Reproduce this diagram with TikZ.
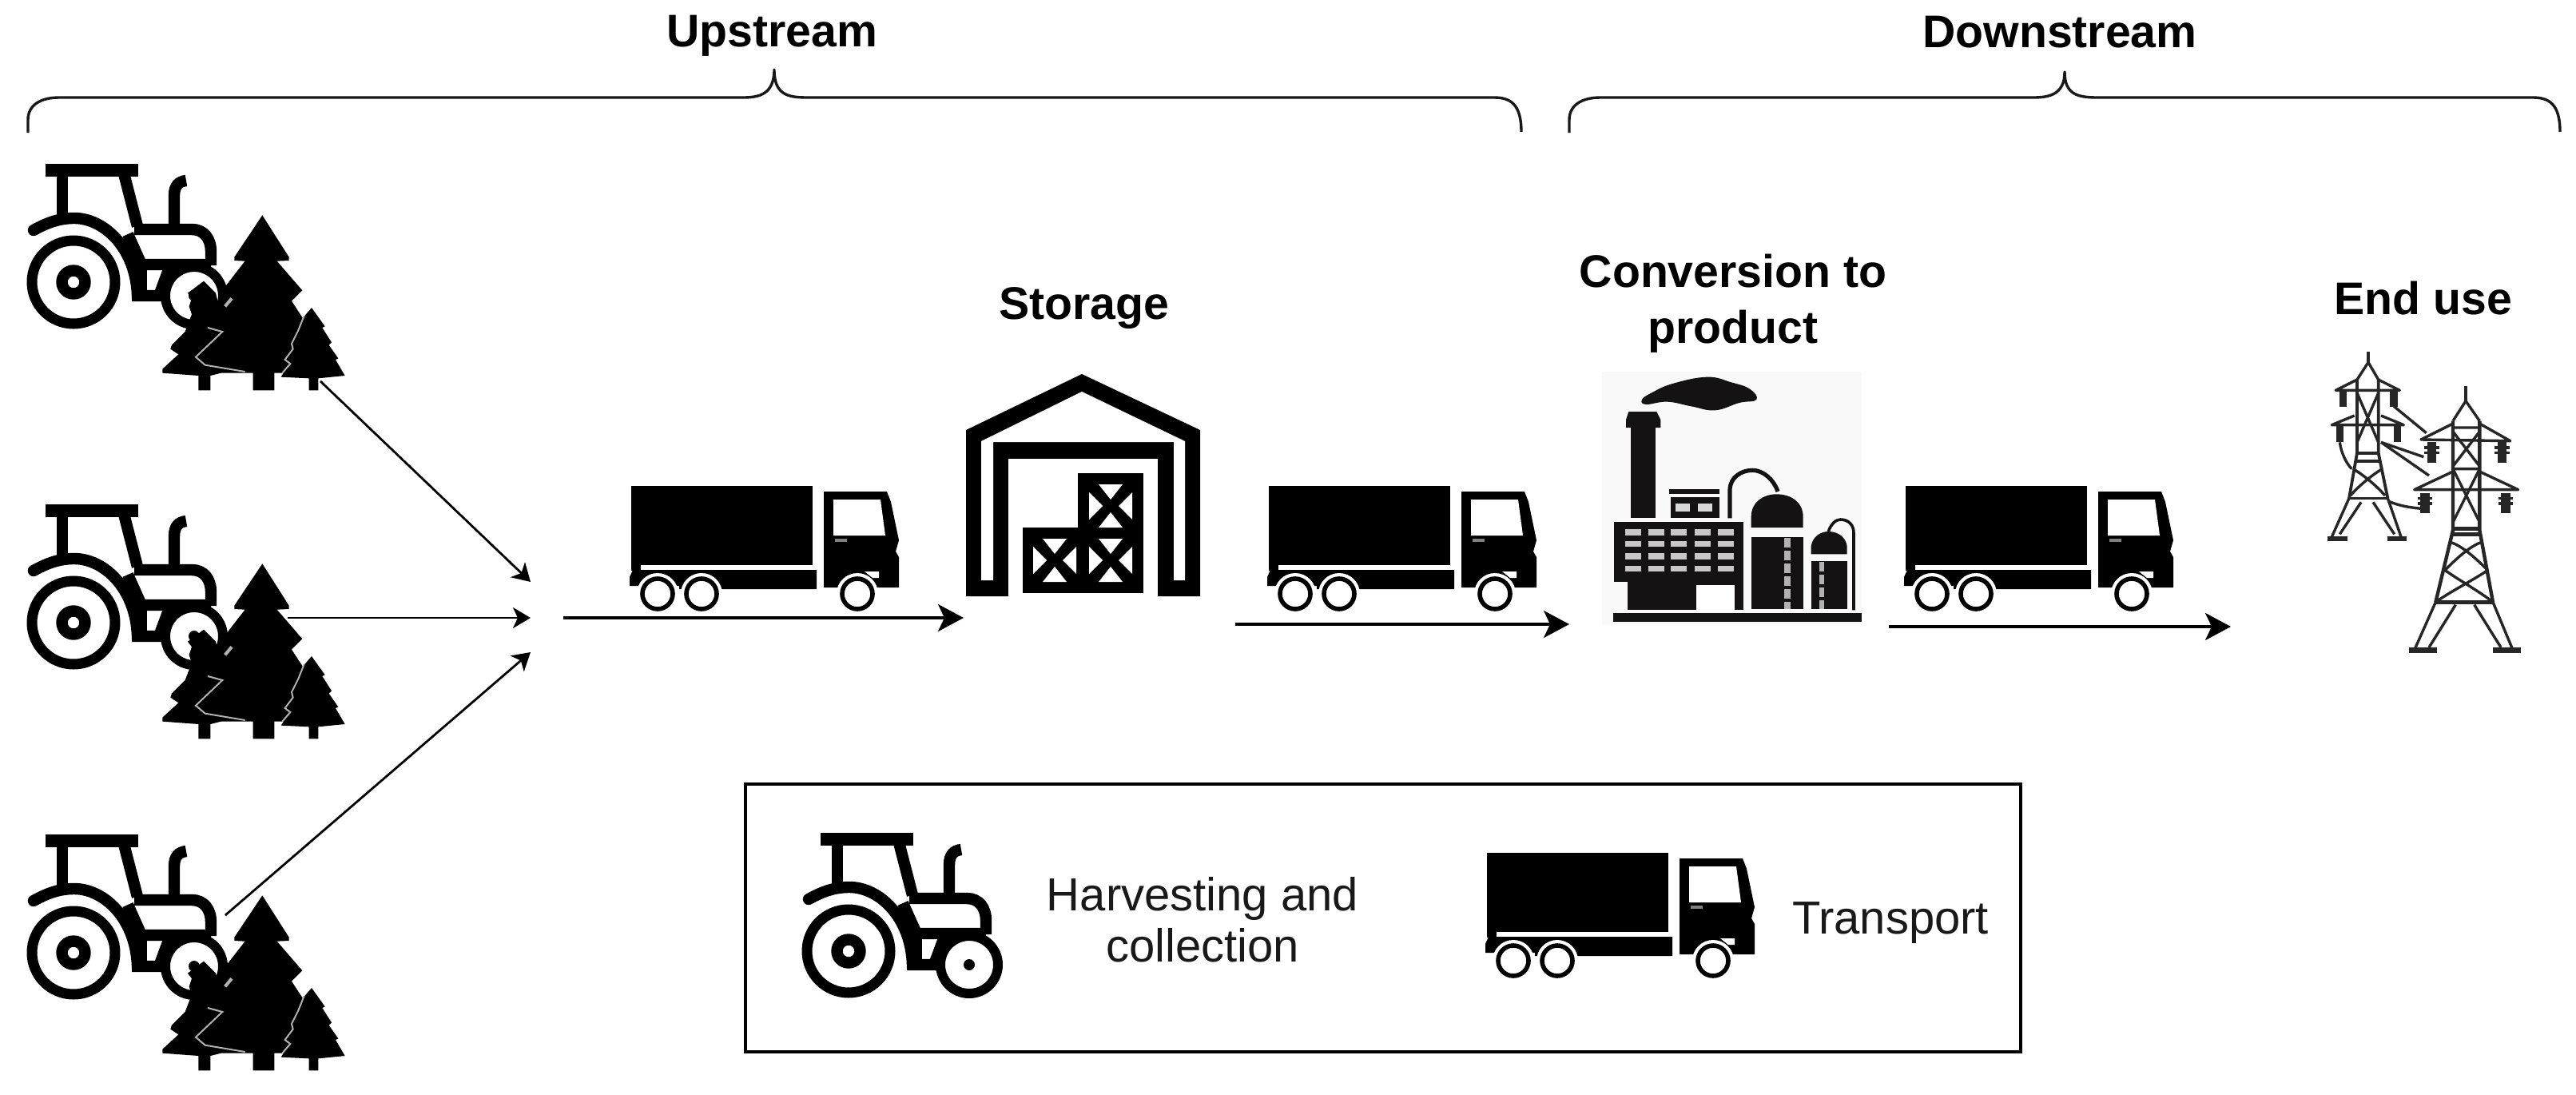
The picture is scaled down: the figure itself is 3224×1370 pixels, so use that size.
\documentclass[tikz,border=0pt]{standalone}
\usepackage{fontspec}
\setmainfont{Liberation Sans}
\usetikzlibrary{arrows.meta}
\definecolor{ink}{HTML}{000000}
\definecolor{fact}{HTML}{151213}
\tikzset{
  label/.style={font=\fontsize{14.3}{17.5}\selectfont\bfseries,align=center,text=ink,inner sep=0pt},
  leg/.style={font=\fontsize{14.5}{16}\selectfont,align=center,text=black!90,inner sep=0pt},
  brace/.style={draw=ink!90,line width=0.85pt,line join=round},
  arr/.style={draw=ink,line width=0.9pt,-{Stealth[length=8pt,width=8.5pt,inset=2pt]}},
  arrs/.style={draw=ink,line width=0.7pt,-{Stealth[length=5.5pt,width=6.5pt,inset=1.5pt]}},
  tractor/.pic={
    \begin{scope}[draw=ink,line width=3.6pt]
      \draw[line width=4pt] (57,33)--(173,33);
      \draw (78,33)--(78,92);
      \draw (155,37)--(172,103);
      \draw (218,103)--(218,65) .. controls (218,52) and (224,47) .. (233,46);
      \draw (168,107)--(240,107) .. controls (255,107) and (264,118) .. (264,135)--(264,152);
      \draw[line cap=round] (42,108) .. controls (60,98) and (75,93) .. (93,93) .. controls (130,93) and (170,130) .. (172,190) -- (202,190);
      \draw (160,113)--(177,151)--(264,151);
      \draw (177,151)--(177,190);
      \draw (212,155)--(199,190);
      \draw[fill=white,line width=3.25pt] (92,173) circle[radius=52];
      \draw (92,173) circle[radius=14.5];
      \draw[fill=white,line width=3pt] (243,190) circle[radius=36];
      \fill[ink] (243,190) circle[radius=7];
    \end{scope}
  },
  trees/.pic={
    \begin{scope}[scale=1/3,fill=ink]
      \fill (985,268)--(1085,425)--(1085,438)--(1040,440)--(1135,550)--(1095,590)--(1180,720)--(1150,860)--(1030,860)--(1030,925)--(950,925)--(950,860)--(800,860)--(800,620)--(850,530)--(920,440)--(880,438)--(880,425)--cycle;
      \fill (765,515)--(810,560)--(830,640)--(830,860)--(790,870)--(790,925)--(745,925)--(745,870)--(610,860)--(610,845)--(670,790)--(640,770)--(645,755)--(695,705)--(720,640)--(710,610)--(720,580)--(705,560)--(725,545)--cycle;
      \fill (1170,615)--(1220,685)--(1210,690)--(1245,745)--(1235,755)--(1270,805)--(1260,810)--(1295,870)--(1195,880)--(1195,925)--(1160,925)--(1160,880)--(1055,875)--(1090,820)--(1070,800)--(1120,700)--(1140,650)--cycle;
      \draw[white!70!black,line width=0.5pt] (780,690)--(835,705)--(735,800)--(770,830)--(920,855);
      \draw[white!70!black,line width=0.5pt] (1142,645)--(1120,700)--(1095,750)--(1100,770)--(1070,810)--(1090,825)--(1060,860);
      \draw[white!70!black,line width=1pt] (845,610)--(870,580);
    \end{scope}
  },
  truck/.pic={
    \fill[ink] (0,0) rectangle (227,99);
    \fill[ink] (0,99) rectangle (12,106);
    \fill[ink] (-2,114)--(2,105)--(232,105)--(232,129)--(60,129)--(60,125)--(-2,125)--cycle;
    \fill[ink] (241,7)--(320,7)--(325,20)--(335,68)--(331,82)--(335,89)--(335,127)--(241,127)--cycle;
    \fill[white] (253,17)--(312,17)--(318,62)--(253,62)--cycle;
    \fill[white] (292,107)--(310,107)--(310,115)--(302,115)--cycle;
    \draw[gray,line width=0.8pt] (255,68)--(270,68);
    \foreach \wx in {33,88,283} {
      \fill[white] (\wx,135) circle[radius=26];
      \draw[ink,fill=white,line width=1.4pt] (\wx,135) circle[radius=19];
    }
  },
  crate/.pic={
    \fill[white] (-15,-27)--(15,-27)--(0,-8)--cycle;
    \fill[white] (-15,27)--(15,27)--(0,8)--cycle;
    \fill[white] (-27,-17)--(-27,17)--(-10,0)--cycle;
    \fill[white] (27,-17)--(27,17)--(10,0)--cycle;
  },
}
\begin{document}
\begin{tikzpicture}[x=0.25pt,y=-0.25pt]
\useasboundingbox (0,0) rectangle (3224,1370);
\fill[white] (0,0) rectangle (3224,1370);

% braces
\draw[brace] (35,166)--(35,150) .. controls (35,132) and (50,122) .. (74,122) -- (930,122) .. controls (950,122) and (969,118) .. (969,87) .. controls (969,118) and (985,122) .. (1010,122) -- (1870,122) .. controls (1890,122) and (1904,130) .. (1904,165);
\draw[brace] (1964,166)--(1964,150) .. controls (1964,132) and (1979,122) .. (2003,122) -- (2545,122) .. controls (2565,122) and (2584,118) .. (2584,90) .. controls (2584,118) and (2600,122) .. (2625,122) -- (3170,122) .. controls (3190,122) and (3204,130) .. (3204,165);

% labels
\node[label] (up) at (966,45) {Upstream};
\node[label] (down) at (2578,40) {Downstream};
\node[label] (stor) at (1357,386) {Storage};
\node[label] (conv) at (2169,380) {Conversion to\\product};
\node[label] (end) at (3033,373) {End use};

% arrow ends
\coordinate (a1s) at (401,477); \coordinate (a1e) at (664,728);
\coordinate (a2s) at (360,773); \coordinate (a2e) at (664,773);
\coordinate (a3s) at (282,1145); \coordinate (a3e) at (664,816);
\coordinate (b1s) at (705,773); \coordinate (b1e) at (1206,773);
\coordinate (b2s) at (1546,781); \coordinate (b2e) at (1964,781);
\coordinate (b3s) at (2364,784); \coordinate (b3e) at (2792,784);
\draw[arrs] (a1s)--(a1e);
\draw[arrs] (a2s)--(a2e);
\draw[arrs] (a3s)--(a3e);
\draw[arr] (b1s)--(b1e);
\draw[arr] (b2s)--(b2e);
\draw[arr] (b3s)--(b3e);

% harvesting
\pic (tr1) at (0,180) {tractor};
\pic (tr2) at (0,606) {tractor};
\pic (tr3) at (0,1019) {tractor};
\pic (tree1) at (0,180) {trees};
\pic (tree2) at (0,616) {trees};
\pic (tree3) at (0,1031) {trees};

% trucks
\pic (tk1) at (790,608) {truck};
\pic (tk2) at (1588,608) {truck};
\pic (tk3) at (2385,608) {truck};

% warehouse
\fill[ink] (1354,468)--(1502,538)--(1502,746)--(1209,746)--(1209,538)--cycle;
\fill[white] (1228,726)--(1228,552)--(1354,490)--(1483,552)--(1483,726)--(1469,726)--(1469,553)--(1243,553)--(1243,726)--cycle;
\fill[white] (1262,574) rectangle (1449,750);
\fill[ink] (1280,660) rectangle (1431,742);
\fill[ink] (1349,592) rectangle (1431,660);
\pic at (1390,633) {crate};
\pic at (1320,701) {crate};
\pic at (1390,701) {crate};

% factory
\begin{scope}[shift={(1960,400)},scale=1/3]
  \fill[black!2.5] (135,195) rectangle (1110,1145);
  \fill[fact] plot[smooth cycle,tension=0.7] coordinates {(285,300) (320,275) (400,240) (530,215) (620,235) (690,260) (715,300) (650,312) (560,340) (470,325) (380,308) (300,318)};
  \fill[fact] (243,400) rectangle (335,745);
  \fill[fact] (235,345)--(340,345)--(355,375)--(355,405)--(225,405)--(225,375)--cycle;
  \fill[fact] (388,635) rectangle (575,655);
  \fill[fact] (392,665) rectangle (575,745);
  \fill[white!85!black] (410,690) rectangle (465,720);
  \fill[white!85!black] (495,690) rectangle (550,720);
  \draw[fact,line width=1.3pt] (615,745)--(615,640) .. controls (615,590) and (660,565) .. (700,565) .. controls (740,565) and (780,600) .. (795,645);
  \fill[fact] (180,760) rectangle (665,985);
  \fill[fact] (230,985) rectangle (665,1090);
  \fill[white] (490,995) rectangle (632,1095);
  \foreach \cx in {253,338,423,512,600} \foreach \cy in {798,842,888,934} {
    \fill[black!22] (\cx-30,\cy-11) rectangle (\cx+30,\cy+11);
  }
  \fill[fact] (178,1100) rectangle (1110,1135);
  \fill[fact] (695,780)--(695,740) .. controls (695,685) and (740,655) .. (790,655) .. controls (845,655) and (890,685) .. (890,740) -- (890,780)--cycle;
  \fill[fact] (695,815) rectangle (890,1085);
  \draw[black!30,line width=2pt,dash pattern=on 3pt off 1pt] (832,820)--(832,1085);
  \fill[fact] (920,880)--(920,850) .. controls (925,815) and (955,795) .. (985,795) .. controls (1020,795) and (1050,815) .. (1055,850) -- (1055,880)--cycle;
  \fill[fact] (920,905) rectangle (1055,1085);
  \draw[black!30,line width=1.5pt,dash pattern=on 3pt off 1pt] (960,910)--(960,1085);
  \draw[fact,line width=0.9pt] (985,795) .. controls (995,765) and (1015,750) .. (1030,750) .. controls (1060,750) and (1080,770) .. (1080,800) -- (1080,1090);
\end{scope}

% pylons
\begin{scope}[shift={(2840,420)},scale=1/3,draw=ink!85,line width=0.85pt,line join=round]
  % big
  \draw[line width=1pt] (738,190)--(738,245);
  \draw (690,320)--(738,245)--(790,320);
  \draw[line width=1.1pt] (690,320)--(690,730)--(625,1000);
  \draw[line width=1.1pt] (790,320)--(790,730)--(840,1000);
  \draw (690,330)--(570,390)--(905,395)--(790,330);
  \draw (690,510)--(545,578)--(935,578)--(790,510);
  \draw (690,345)--(790,345) (690,360)--(790,490) (790,360)--(690,490) (690,500)--(790,500);
  \draw (690,500)--(790,700) (790,500)--(690,700);
  \draw[line width=1.1pt] (690,725)--(790,725) (690,745)--(790,745);
  \draw (680,775) .. controls (730,790) and (790,850) .. (820,880) (798,775) .. controls (750,790) and (690,850) .. (660,880);
  \draw (660,880) .. controls (700,910) and (790,960) .. (840,1000) (820,880) .. controls (780,910) and (680,960) .. (625,1000);
  \draw[line width=1.1pt] (625,1000)--(840,1000);
  \draw (625,1000)--(545,1180) (700,1010)--(600,1170) (770,1010)--(870,1170) (840,1000)--(915,1180);
  \draw[line width=1.8pt] (525,1180)--(630,1180) (840,1180)--(945,1180);
  \foreach \ix/\iy in {610/400,875/400,585/590,888/590} {
    \draw[line width=2.8pt] (\ix,\iy)--(\ix,\iy+76);
    \draw[line width=0.8pt] (\ix-28,\iy+20)--(\ix+28,\iy+20) (\ix-28,\iy+40)--(\ix+28,\iy+40);
  }
  % small
  \draw[line width=0.9pt] (372,60)--(372,100);
  \draw (330,165)--(372,100)--(410,165);
  \draw[line width=0.95pt] (330,165)--(330,440)--(300,610);
  \draw[line width=0.95pt] (410,165)--(410,440)--(445,610);
  \draw (330,165)--(250,205)--(490,205)--(410,165);
  \draw (320,300)--(235,335)--(505,335)--(420,300);
  \draw (330,215)--(410,400) (410,215)--(330,400);
  \draw[line width=1pt] (330,440)--(410,440) (325,470)--(415,470);
  \draw (315,500) .. controls (350,520) and (400,560) .. (435,600) (425,500) .. controls (390,520) and (340,560) .. (305,600);
  \draw (300,610)--(445,610);
  \draw (300,610)--(235,755) (345,625)--(265,745) (390,625)--(470,745) (445,610)--(495,755);
  \draw[line width=1.5pt] (220,762)--(295,762) (445,762)--(515,762);
  \foreach \ix/\iy in {278/210,468/210,265/340,482/340} {
    \draw[line width=2.4pt] (\ix,\iy)--(\ix,\iy+58);
  }
  \draw (468,265)--(590,365) (420,400)--(580,455) (420,400)--(600,525);
  \draw (265,400) .. controls (270,440) and (290,480) .. (310,500);
  \draw (445,620) .. controls (490,640) and (530,645) .. (580,650);
\end{scope}

% legend
\node[draw=ink,line width=0.8pt,minimum width=399pt,minimum height=83.75pt,inner sep=0pt] (box) at (1731,1148.5) {};
\pic (trl) at (970,1017) {tractor};
\node[leg] (hv) at (1505,1151) {Harvesting and\\collection};
\pic (tkl) at (1861,1067) {truck};
\node[leg] (tp) at (2366,1155) {Transport};
\end{tikzpicture}
\end{document}
